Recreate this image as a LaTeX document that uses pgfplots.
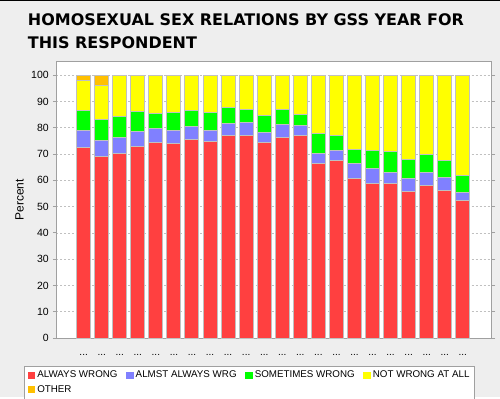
\documentclass[border=0pt]{standalone}
\usepackage{pgfplots}
\pgfplotsset{compat=1.18}
\usepackage{pgfplotstable}
\usepackage{fontspec}
\setmainfont{Liberation Sans}
\newfontfamily\titlefont{DejaVu Sans}
\definecolor{bgc}{HTML}{EEEEEE}
\definecolor{cred}{HTML}{FF4040}
\definecolor{cblue}{HTML}{8080FF}
\definecolor{cgreen}{HTML}{00FF00}
\definecolor{cyellow}{HTML}{FFFF00}
\definecolor{corange}{HTML}{FFC000}
\definecolor{edge}{HTML}{C0C0C0}
\definecolor{axc}{HTML}{A0A0A0}
\pgfplotstableread{
x aw alm some notw other
0 72.6 6.5 7.5 11.4 2.0
1 69.2 5.8 8.3 12.9 3.8
2 70.3 6.1 8.0 15.6 0
3 73.0 5.7 7.6 13.7 0
4 74.5 5.3 5.8 14.4 0
5 74.1 5.0 6.8 14.1 0
6 75.7 4.9 6.1 13.3 0
7 74.9 4.2 6.8 14.1 0
8 77.2 4.3 6.3 12.2 0
9 77.2 4.7 5.2 12.9 0
10 74.5 3.8 6.5 15.2 0
11 76.4 5.0 5.7 12.9 0
12 77.2 3.8 4.2 14.8 0
13 66.2 4.0 7.7 22.1 0
14 67.7 3.5 6.0 22.8 0
15 60.8 5.4 5.7 28.1 0
16 58.6 5.7 7.2 28.5 0
17 58.6 4.5 8.0 28.9 0
18 55.9 4.9 7.3 31.9 0
19 58.2 4.9 6.7 30.2 0
20 56.3 4.9 6.5 32.3 0
21 52.5 3.0 6.4 38.1 0
}\datatable
\begin{document}
\begin{tikzpicture}
\path[fill=bgc] (0,0) rectangle (500pt,398pt);
\draw[black,line width=1pt] (0,397.5pt) -- (500pt,397.5pt);
\node[anchor=base west,inner sep=0pt,font=\titlefont\bfseries\fontsize{16}{19}\selectfont] at (27.3pt,372pt) {HOMOSEXUAL SEX RELATIONS BY GSS YEAR FOR};
\node[anchor=base west,inner sep=0pt,font=\titlefont\bfseries\fontsize{16}{19}\selectfont] at (27.3pt,349.7pt) {THIS RESPONDENT};
\begin{axis}[
  at={(56pt,59.3pt)}, anchor=south west, scale only axis,
  width=436pt, height=276.7pt,
  xmin=-1.51, xmax=22.59, ymin=0, ymax=105.05,
  ybar stacked, bar width=14pt,
  axis background/.style={fill=white},
  axis line style={draw=axc, line width=1pt},
  ytick={0,10,...,100},
  xtick={0,...,21}, xticklabel={...},
  xtick style={draw=none},
  ytick style={draw=axc, line width=0.8pt},
  tick align=outside, major tick length=3.5pt,
  ymajorgrids, grid style={draw=edge, dash pattern=on 2pt off 2pt, line width=0.6pt},
  /pgf/number format/assume math mode=true,
  yticklabel style={font=\fontsize{10.5}{12}\selectfont, inner sep=0pt, xshift=-4pt},
  xticklabel style={font=\fontsize{10}{12}\selectfont, anchor=base, inner sep=0pt, yshift=-14.5pt},
  every axis y label/.style={at={(axis description cs:-0.0849,0.5)}, rotate=90, anchor=center, font=\fontsize{12}{14}\selectfont},
  ylabel={Percent},
  every axis plot/.append style={draw=edge, line width=1pt},
  legend style={at={(axis description cs:-0.0734,-0.1012)}, anchor=north west,
    draw=axc, fill=white, font=\fontsize{9.8}{11.5}\selectfont, legend columns=4,
    inner xsep=3pt, inner ysep=3pt, row sep=2pt,
    /tikz/every even column/.append style={column sep=6.5pt}},
  legend cell align=left,
  legend image code/.code={\fill[#1,draw=none] (0pt,-3.8pt) rectangle (7.7pt,3.8pt);},
]
\addplot[fill=cred] table[x=x,y=aw]{\datatable};
\addplot[fill=cblue] table[x=x,y=alm]{\datatable};
\addplot[fill=cgreen] table[x=x,y=some]{\datatable};
\addplot[fill=cyellow] table[x=x,y=notw]{\datatable};
\addplot[fill=corange] table[x=x,y=other]{\datatable};
\legend{ALWAYS WRONG, ALMST ALWAYS WRG, SOMETIMES WRONG, NOT WRONG AT ALL, OTHER}
\end{axis}
\end{tikzpicture}
\end{document}
